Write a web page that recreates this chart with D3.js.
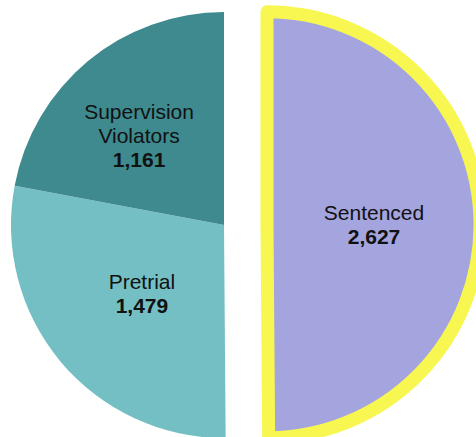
<!DOCTYPE html>
<html>
<head>
<meta charset="utf-8">
<script src="https://cdn.jsdelivr.net/npm/d3@7"></script>
<style>
  body { margin: 0; background: #fff; }
  svg { display: block; }
</style>
</head>
<body>
<div id="chart-container"></div>
<script>
// pie chart - population by status
// Sentenced slice pulled out and outlined in yellow

const categories = ["Sentenced", "Pretrial", "Supervision Violators"];
const values = [2627, 1479, 1161];
const colors = ["#a4a4de", "#74bfc4", "#3e8a8f"];

const data = categories.map((c, i) => ({ name: c, value: values[i], color: colors[i] }));

const svgWidth = 476;
const svgHeight = 437;
const radius = 213;
const cx = 224;
const cy = 225;
const explode = 43;

const svg = d3.select("#chart-container")
    .append("svg")
    .attr("width", svgWidth)
    .attr("height", svgHeight);

const pie = d3.pie()
    .sort(null)
    .value(d => d.value);

const arc = d3.arc()
    .innerRadius(0)
    .outerRadius(radius);

const arcs = pie(data);

const chart = svg.append("g")
    .attr("transform", `translate(${cx},${cy})`);

// offset of a slice: only the first one is exploded
function shift(d, i) {
    if (i !== 0) return [0, 0];
    const a = (d.startAngle + d.endAngle) / 2;
    return [Math.sin(a) * explode, -Math.cos(a) * explode];
}

const slices = chart.selectAll("g.slice")
    .data(arcs)
    .enter()
    .append("g")
    .attr("class", "slice")
    .attr("transform", (d, i) => `translate(${shift(d, i)})`);

slices.append("path")
    .attr("d", arc)
    .attr("fill", d => d.data.color)
    .attr("stroke", (d, i) => i === 0 ? "#f8f752" : "none")
    .attr("stroke-width", 13)
    .attr("stroke-linejoin", "round");

// labels: name on one or two lines, value bold underneath
const lineH = 24;
slices.each(function(d, i) {
    const lines = d.data.name === "Supervision Violators" ? ["Supervision", "Violators"] : [d.data.name];
    const r = lines.length > 1 ? 123 : 107;
    const a = (d.startAngle + d.endAngle) / 2 - (lines.length > 1 ? 0.07 : 0);
    const x = Math.sin(a) * r;
    const y = -Math.cos(a) * r;
    const n = lines.length + 1;
    const text = d3.select(this).append("text")
        .attr("text-anchor", "middle")
        .attr("font-family", "Liberation Sans, Arial, sans-serif")
        .attr("font-size", "21px")
        .attr("fill", "#111");
    lines.concat([d3.format(",")(d.data.value)]).forEach((t, k) => {
        text.append("tspan")
            .attr("x", x)
            .attr("y", y + (k - (n - 1) / 2) * lineH + 7.4)
            .attr("font-weight", k === lines.length ? "bold" : "normal")
            .text(t);
    });
});
</script>
</body>
</html>
